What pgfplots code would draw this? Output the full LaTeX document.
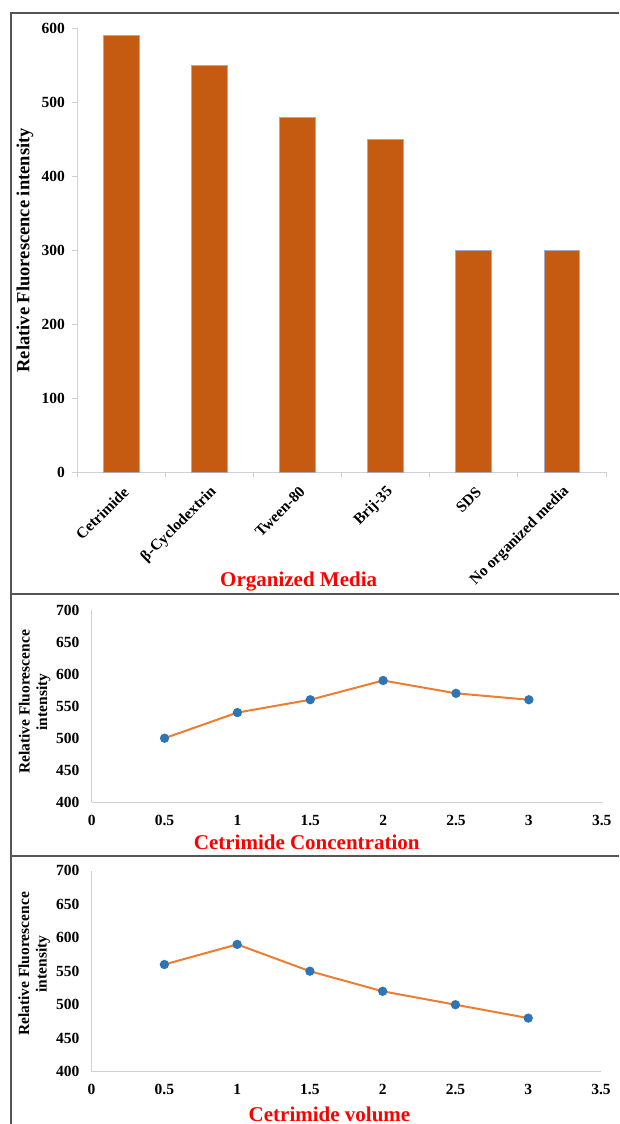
\documentclass[border=0pt]{standalone}
\usepackage{fontspec}
\setmainfont{Liberation Serif}
\usepackage{pgfplots}
\pgfplotsset{compat=1.18}
\definecolor{barc}{HTML}{C55A11}
\definecolor{baredge}{HTML}{A8A8C4}
\definecolor{linec}{HTML}{ED7D31}
\definecolor{markc}{HTML}{2E75B6}
\definecolor{axc}{HTML}{D0D0D0}
\definecolor{framec}{HTML}{555555}
\newcommand{\tf}{\fontsize{15.5}{17.5}\selectfont\bfseries}
\newcommand{\ttlf}{\fontsize{21}{24}\selectfont\bfseries\color{red}}
\begin{document}
\begin{tikzpicture}
\useasboundingbox (0,0) rectangle (619pt,1124pt);
\draw[framec, line width=1.5pt] (11pt,0pt) -- (11pt,1111pt) -- (619pt,1111pt);
\draw[framec, line width=1.5pt] (11pt,530pt) -- (619pt,530pt);
\draw[framec, line width=1.5pt] (11pt,268pt) -- (619pt,268pt);
% Panel 1
\begin{axis}[
  at={(77pt,651.7pt)}, anchor=south west,
  scale only axis, width=529pt, height=444pt,
  xmin=-0.5, xmax=5.5, ymin=0, ymax=600,
  axis lines*=left,
  axis line style={draw=axc, line width=0.9pt},
  tick style={draw=axc, line width=0.9pt},
  tick align=outside, major tick length=5pt,
  ytick={0,100,...,600},
  xtick={-0.5,0.5,1.5,2.5,3.5,4.5,5.5},
  xticklabels={,,,,,,},
  extra x ticks={0,1,2,3,4,5},
  extra x tick labels={Cetrimide,β-Cyclodextrin,Tween-80,Brij-35,SDS,No organized media},
  extra x tick style={major tick length=0pt,
    xticklabel style={xshift=5pt, yshift=-17pt, rotate=45, anchor=east, inner sep=0pt}},
  /pgf/number format/assume math mode=true,
  tick label style={font=\tf},
  yticklabel style={xshift=-3.5pt},
  xlabel={Organized Media},
  xlabel style={font=\ttlf, at={(rel axis cs:0.419,-0.2583)}, anchor=base},
  ylabel={Relative Fluorescence intensity},
  ylabel style={font=\fontsize{18.5}{21}\selectfont\bfseries, at={(rel axis cs:-0.0983,0.5)}, anchor=center, rotate=0},
  clip=false,
]
\addplot[ybar, bar width=35.7pt, fill=barc, draw=baredge, line width=0.8pt] coordinates {
  (0,590) (1,550) (2,480) (3,450) (4,300) (5,300)};
\end{axis}
% Panel 2
\begin{axis}[
  at={(91.7pt,321.7pt)}, anchor=south west,
  scale only axis, width=510pt, height=192.3pt,
  xmin=0, xmax=3.5, ymin=400, ymax=700,
  axis lines*=left,
  axis line style={draw=axc, line width=0.9pt},
  major tick length=0pt,
  xtick={0,0.5,...,3.5}, ytick={400,450,...,700},
  /pgf/number format/assume math mode=true,
  tick label style={font=\tf},
  yticklabel style={xshift=-8.8pt},
  xticklabel style={yshift=-9pt},
  xlabel={Cetrimide Concentration},
  xlabel style={font=\ttlf, at={(rel axis cs:0.4216,-0.248)}, anchor=base},
  ylabel={Relative Fluorescence\\intensity},
  ylabel style={font=\tf, align=center, at={(rel axis cs:-0.112,0.5216)}, anchor=center},
  clip=false,
]
\addplot[linec, line width=2pt, mark=*, mark size=3.6pt, mark options={fill=markc, draw=markc}] coordinates {
  (0.5,500) (1,540) (1.5,560) (2,590) (2.5,570) (3,560)};
\end{axis}
% Panel 3
\begin{axis}[
  at={(91.6pt,52.3pt)}, anchor=south west,
  scale only axis, width=509.4pt, height=201pt,
  xmin=0, xmax=3.5, ymin=400, ymax=700,
  axis lines*=left,
  axis line style={draw=axc, line width=0.9pt},
  major tick length=0pt,
  xtick={0,0.5,...,3.5}, ytick={400,450,...,700},
  /pgf/number format/assume math mode=true,
  tick label style={font=\tf},
  yticklabel style={xshift=-8.8pt},
  xticklabel style={yshift=-9pt},
  xlabel={Cetrimide volume},
  xlabel style={font=\ttlf, at={(rel axis cs:0.467,-0.2488)}, anchor=base},
  ylabel={Relative Fluorescence\\intensity},
  ylabel style={font=\tf, align=center, at={(rel axis cs:-0.1126,0.536)}, anchor=center},
  clip=false,
]
\addplot[linec, line width=2pt, mark=*, mark size=3.6pt, mark options={fill=markc, draw=markc}] coordinates {
  (0.5,560) (1,590) (1.5,550) (2,520) (2.5,500) (3,480)};
\end{axis}
\end{tikzpicture}
\end{document}
